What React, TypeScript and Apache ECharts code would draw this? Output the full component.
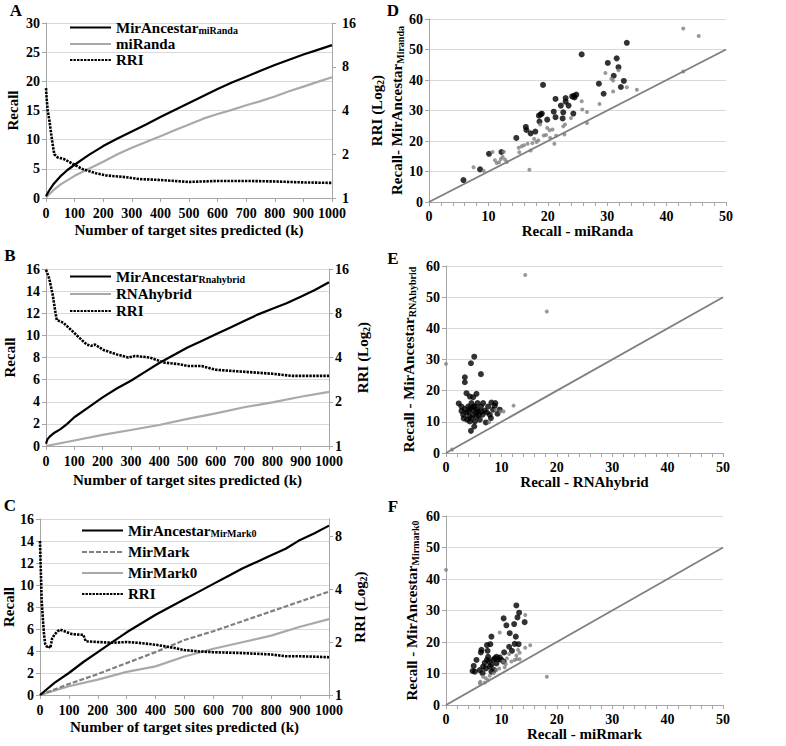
import React, { useEffect, useRef } from "react";
import * as echarts from "echarts";

// ---------- Panel A ----------
const kA_anc = [0, 10, 25, 50, 75, 100, 150, 200, 250, 300, 350, 400, 450, 500, 550, 600, 650, 700, 750, 800, 850, 900, 950, 1000];
const recallA_anc = [0.3, 1.2, 2.3, 3.7, 4.8, 5.7, 7.4, 8.9, 10.2, 11.4, 12.6, 13.9, 15.1, 16.3, 17.5, 18.7, 19.8, 20.8, 21.8, 22.8, 23.7, 24.6, 25.4, 26.2];
const kA_base = [0, 25, 50, 100, 150, 200, 250, 300, 350, 400, 450, 500, 550, 600, 650, 700, 750, 800, 850, 900, 950, 1000];
const recallA_base = [0.1, 1.3, 2.3, 3.8, 5.0, 6.2, 7.5, 8.6, 9.6, 10.6, 11.6, 12.6, 13.6, 14.4, 15.1, 15.9, 16.6, 17.4, 18.3, 19.1, 19.9, 20.7];
const kA_rri = [0, 2, 6, 12, 21, 29, 41, 64, 93, 128, 175, 210, 280, 326, 400, 500, 600, 700, 800, 900, 1000];
const rriA = [5.7, 4.9, 4.0, 3.4, 2.5, 2.0, 1.9, 1.85, 1.72, 1.58, 1.48, 1.43, 1.39, 1.35, 1.33, 1.29, 1.31, 1.31, 1.3, 1.28, 1.27];

// ---------- Panel B ----------
const kB_anc = [0, 5, 15, 30, 50, 75, 100, 150, 200, 250, 300, 350, 400, 450, 500, 550, 600, 650, 700, 750, 800, 850, 900, 950, 1000];
const recallB_anc = [0.2, 0.6, 0.9, 1.2, 1.5, 2.0, 2.6, 3.5, 4.4, 5.2, 5.9, 6.7, 7.5, 8.2, 8.9, 9.5, 10.1, 10.7, 11.3, 11.9, 12.4, 12.9, 13.5, 14.1, 14.8];
const kB_base = [0, 100, 200, 300, 400, 500, 600, 700, 800, 900, 1000];
const recallB_base = [0, 0.5, 1.0, 1.45, 1.9, 2.45, 2.95, 3.5, 3.95, 4.45, 4.9];
const kB_rri = [0, 5, 8, 14, 24, 32, 38, 61, 91, 120, 144, 160, 173, 203, 250, 291, 314, 367, 415, 473, 500, 550, 600, 700, 800, 870, 1000];
const rriB = [15.8, 14.9, 14.5, 13.1, 10.6, 8.4, 7.2, 6.9, 6.1, 5.4, 4.9, 4.8, 4.9, 4.5, 4.2, 4.0, 4.1, 4.0, 3.7, 3.6, 3.5, 3.5, 3.3, 3.2, 3.1, 3.0, 3.0];

// ---------- Panel C ----------
const kC_anc = [0, 50, 100, 150, 200, 250, 300, 350, 400, 450, 500, 550, 600, 650, 700, 750, 800, 850, 900, 950, 1000];
const recallC_anc = [0, 1.1, 2.0, 3.0, 3.9, 4.8, 5.7, 6.5, 7.3, 8.0, 8.7, 9.4, 10.1, 10.8, 11.5, 12.1, 12.7, 13.3, 14.1, 14.7, 15.4];
const kC_base = [0, 100, 200, 300, 400, 500, 600, 700, 800, 900, 1000];
const recallC_mirmark = [0, 1.0, 1.9, 2.9, 3.9, 5.0, 5.8, 6.7, 7.6, 8.5, 9.4];
const recallC_mirmark0 = [0, 0.8, 1.4, 2.1, 2.6, 3.5, 4.2, 4.8, 5.4, 6.2, 6.9];
const kC_rri = [0, 3, 6, 10, 14, 18, 24, 30, 36, 42, 50, 60, 70, 85, 110, 140, 150, 158, 200, 250, 300, 340, 400, 450, 500, 550, 600, 700, 800, 850, 900, 1000];
const rriC = [7.5, 5.0, 3.4, 2.7, 2.2, 1.95, 1.88, 1.9, 1.85, 2.1, 2.2, 2.3, 2.35, 2.3, 2.22, 2.2, 2.2, 2.02, 2.0, 1.98, 2.0, 1.98, 1.93, 1.87, 1.8, 1.77, 1.75, 1.73, 1.7, 1.66, 1.66, 1.64];

// ---------- Scatter D ----------
const dBlack = [[5.8,7.2],[8.6,10.7],[10.1,15.8],[12.2,16.4],[14.7,21.0],[16.3,24.6],[16.4,23.6],[17.1,22.5],[17.9,23.1],[18.5,28.3],[18.8,28.7],[19.0,29.0],[18.6,26.4],[19.2,38.4],[19.9,27.0],[21.0,29.6],[21.3,33.8],[21.3,27.8],[22.2,31.6],[22.5,27.4],[22.6,29.4],[23.0,32.9],[23.0,34.1],[23.5,31.6],[24.1,34.6],[24.4,34.8],[24.5,34.3],[24.8,35.2],[24.3,29.0],[25.7,48.4],[28.6,38.8],[29.4,35.5],[30.1,45.6],[31.1,41.4],[31.6,47.1],[31.9,44.2],[32.3,37.7],[32.8,39.7],[33.3,52.2]];
const dGray = [[7.5,11.4],[9.2,10.2],[10.7,16.4],[11.1,13.7],[11.4,12.8],[11.8,13.0],[12.1,14.1],[12.4,14.8],[12.6,16.5],[12.8,13.9],[13.1,13.1],[15.1,17.8],[15.2,16.3],[15.6,18.3],[16.0,18.6],[16.6,19.1],[16.9,10.6],[17.1,16.9],[17.4,19.3],[17.7,20.7],[18.1,19.7],[18.4,20.2],[18.7,25.4],[19.3,21.8],[19.7,22.0],[19.9,24.3],[20.3,23.5],[20.4,21.0],[20.8,23.8],[21.1,19.1],[21.4,21.7],[22.6,24.8],[22.9,25.4],[22.8,22.1],[23.9,27.5],[25.7,33.0],[25.8,30.3],[26.6,29.5],[26.6,25.9],[28.7,32.1],[29.7,42.3],[30.7,40.4],[31.0,39.8],[31.0,36.2],[31.9,43.2],[33.3,37.6],[35.0,36.8],[42.8,42.8],[42.8,56.9],[45.4,54.4]];

// ---------- Scatter E ----------
const eBlack = [[5.1,30.9],[4.5,28.8],[6.3,25.3],[3.4,24.3],[3.4,22.7],[3.7,19.2],[5.5,19.0],[4.3,18.1],[4.9,17.9],[2.3,15.9],[2.8,13.5],[3.1,12.3],[3.4,14.1],[3.7,13.0],[4.0,14.9],[4.2,11.7],[4.3,10.1],[4.5,7.1],[4.6,16.0],[4.7,13.9],[4.9,12.3],[5.1,8.5],[5.2,14.9],[5.4,13.0],[5.5,11.7],[5.7,16.0],[5.8,13.3],[6.1,10.7],[6.3,14.9],[6.6,12.3],[6.7,16.0],[7.0,13.6],[7.2,9.8],[7.4,13.0],[7.6,14.9],[7.9,12.3],[8.1,11.2],[8.2,16.2],[8.5,13.9],[8.8,15.1],[8.9,16.0],[9.3,12.6],[9.7,13.9],[2.8,14.9],[3.2,11.1],[3.8,10.7],[4.1,13.3],[4.4,14.4],[4.6,11.2],[5.0,14.9],[5.2,10.1],[5.6,13.9],[5.9,12.2],[6.4,13.3]];
const eGray = [[0,28.6],[1.1,1.1],[14.3,57.1],[18.2,45.4],[12.2,15.2],[7.8,9.9],[9.8,13.3],[10.4,13.3],[9.0,13.9]];

// ---------- Scatter F ----------
const fBlack = [[12.7,31.6],[13.2,29.3],[12.9,27.8],[14.2,26.3],[10.4,27.5],[10.9,25.3],[12.3,25.7],[11.5,22.8],[12.6,21.7],[8.2,21.7],[7.4,19.0],[8.0,19.3],[12.4,19.4],[13.1,19.3],[11.4,18.5],[11.9,17.2],[6.4,17.5],[6.3,16.7],[7.5,17.2],[10.5,16.7],[5.5,14.3],[5.0,12.4],[4.8,10.8],[5.2,10.6],[6.1,11.1],[6.7,12.2],[7.0,13.4],[7.4,14.3],[7.8,13.8],[8.2,12.7],[8.5,14.3],[8.8,14.8],[9.1,15.3],[9.4,14.5],[9.7,15.1],[10.0,14.3],[10.4,13.8],[8.2,10.6],[8.7,11.1],[7.2,11.6],[6.6,10.1],[7.6,15.3],[9.1,13.2],[7.9,12.2]];
const fGray = [[0,42.9],[18.2,9.0],[14.3,28.6],[15.2,19.0],[14.3,18.2],[13.3,16.6],[12.7,15.7],[12.8,14.6],[12.4,14.3],[11.4,16.2],[10.8,13.0],[10.6,12.0],[9.7,23.0],[9.6,11.6],[9.1,11.1],[8.6,10.1],[7.9,9.3],[7.2,8.5],[6.7,9.0],[6.2,7.4],[6.1,6.9],[7.0,7.1],[7.6,7.9],[10.3,13.8],[11.0,14.8],[11.8,13.8],[13.3,14.5],[13.0,17.5]];

const diagX = [0, 50];
const diagY = [0, 50];

const FONT = "'Liberation Serif', 'Times New Roman', serif";
const AXIS = "#a6a6a6";
const GRID = "#d9d9d9";
const TITLE = 15;
const txt = { fontFamily: FONT, fontWeight: "bold" as const, color: "#000" };
const RICH = {
  m: { ...txt, fontSize: TITLE, lineHeight: 16 },
  s: { ...txt, fontSize: 10, lineHeight: 8, verticalAlign: "bottom" },
};
const richName = (s: string) => {
  const [a, b] = s.split("_");
  return b ? `{m|${a}}{s|${b}}` : `{m|${a}}`;
};

const pairs = (xs: number[], ys: number[]) => xs.map((x, i) => [x, ys[i]]);
const logPairs = (xs: number[], ys: number[]) => xs.map((x, i) => [x, Math.log2(ys[i])]);
const plain = (v: number) => String(v);

function kAxis(gridIndex: number, gap: number) {
  return {
    type: "value", gridIndex, min: 0, max: 1000, interval: 100,
    name: "Number of target sites predicted (k)", nameLocation: "middle", nameGap: gap,
    nameTextStyle: { ...txt, fontSize: TITLE },
    axisLine: { show: true, lineStyle: { color: AXIS } },
    axisTick: { show: true, length: 4, lineStyle: { color: AXIS } },
    axisLabel: { ...txt, fontSize: 14, margin: 8, formatter: plain },
    splitLine: { show: false },
  };
}
function recallAxis(gridIndex: number, max: number, interval: number, gap: number) {
  return {
    type: "value", gridIndex, min: 0, max, interval, position: "left",
    name: "Recall", nameLocation: "middle", nameGap: gap,
    nameTextStyle: { ...txt, fontSize: TITLE },
    axisLine: { show: true, lineStyle: { color: AXIS } },
    axisTick: { show: true, length: 4, lineStyle: { color: AXIS } },
    axisLabel: { ...txt, fontSize: 14, margin: 6, formatter: plain },
    splitLine: { show: true, lineStyle: { color: GRID } },
  };
}
function rriAxis(gridIndex: number, maxRRI: number, ticks: number[], gap: number, margin: number) {
  const vals = ticks.map((t) => Math.log2(t));
  return {
    type: "value", gridIndex, min: 0, max: Math.log2(maxRRI), interval: 1, position: "right",
    name: "{m|RRI (Log}{s|2}{m|)}", nameLocation: "middle", nameGap: gap,
    nameTextStyle: { ...txt, fontSize: TITLE, rich: RICH },
    axisLine: { show: true, lineStyle: { color: AXIS } },
    axisTick: { show: true, length: 4, lineStyle: { color: AXIS }, customValues: vals },
    axisLabel: {
      ...txt, fontSize: 14, margin, customValues: vals,
      formatter: (v: number) => (Math.abs(v - Math.round(v)) < 1e-6 ? String(Math.round(Math.pow(2, v))) : ""),
    },
    splitLine: { show: false },
  };
}
function scX(gridIndex: number, name: string, gap: number) {
  return {
    type: "value", gridIndex, min: 0, max: 50, interval: 10,
    name, nameLocation: "middle", nameGap: gap,
    nameTextStyle: { ...txt, fontSize: TITLE },
    axisLine: { show: true, lineStyle: { color: AXIS } },
    axisTick: { show: true, length: 4, lineStyle: { color: AXIS } },
    minorTick: { show: true, splitNumber: 5, length: 4, lineStyle: { color: AXIS } },
    axisLabel: { ...txt, fontSize: 14, margin: 7, formatter: plain },
    splitLine: { show: false },
  };
}
function scY(gridIndex: number, name: string, gap: number) {
  return {
    type: "value", gridIndex, min: 0, max: 60, interval: 10,
    name, nameLocation: "middle", nameGap: gap,
    nameTextStyle: { ...txt, fontSize: TITLE, rich: RICH },
    axisLine: { show: true, lineStyle: { color: AXIS } },
    axisTick: { show: true, length: 4, lineStyle: { color: AXIS } },
    axisLabel: { ...txt, fontSize: 14, margin: 6, formatter: plain },
    splitLine: { show: true, lineStyle: { color: GRID } },
  };
}

const BLACK_LINE = { color: "#000", width: 2.2 };
const GRAY_LINE = { color: "#a9a9a9", width: 2.2 };
const DASH_LINE = { color: "#808080", width: 2.2, type: [5, 2] };
const RRI_LINE = { color: "#000", width: 2.6, type: [2.4, 1.1] };

function lineSeries(name: string, xi: number, yi: number, data: number[][], ls: any) {
  return {
    type: "line", name, xAxisIndex: xi, yAxisIndex: yi, data,
    symbol: "none", showSymbol: false, lineStyle: ls, itemStyle: { color: ls.color },
    silent: true, z: 3,
  };
}
function scatter(name: string, xi: number, data: number[][], color: string, size: number) {
  return {
    type: "scatter", name, xAxisIndex: xi, yAxisIndex: xi, data,
    symbol: "circle", symbolSize: size, itemStyle: { color }, silent: true, z: 4,
  };
}
function diag(xi: number) {
  return {
    type: "line", name: "diag", xAxisIndex: xi, yAxisIndex: xi, data: pairs(diagX, diagY),
    symbol: "none", lineStyle: { color: "#7f7f7f", width: 1.8 }, silent: true, z: 2,
  };
}
function legend(left: number, top: number, gap: number, data: string[]) {
  return {
    left, top, orient: "vertical", itemWidth: 41, itemHeight: 10, itemGap: gap, padding: 0,
    data, selectedMode: false,
    itemStyle: { opacity: 0 },
    textStyle: { ...txt, fontSize: 15, rich: RICH },
    formatter: (n: string) => richName(n),
  };
}
function letter(t: string, x: number, y: number) {
  return {
    type: "text", x, y,
    style: { text: t, font: `bold 17px ${FONT}`, fill: "#000", textAlign: "center", textVerticalAlign: "middle" },
  };
}

export default function App() {
  const ref = useRef<HTMLDivElement>(null);
  useEffect(() => {
    if (!ref.current) return;
    const chart = echarts.init(ref.current, undefined, { renderer: "svg" });
    const option: any = {
      animation: false,
      backgroundColor: "#fff",
      grid: [
        { left: 46, top: 23, width: 286, height: 175 },
        { left: 46, top: 269, width: 283, height: 177 },
        { left: 39, top: 519, width: 290, height: 176 },
        { left: 429, top: 19, width: 297, height: 183 },
        { left: 446, top: 266, width: 277, height: 187 },
        { left: 446, top: 516, width: 277, height: 189 },
      ],
      xAxis: [
        kAxis(0, 24), kAxis(1, 26), kAxis(2, 24),
        scX(3, "Recall - miRanda", 20), scX(4, "Recall - RNAhybrid", 21), scX(5, "Recall - miRmark", 21),
      ],
      yAxis: [
        recallAxis(0, 30, 5, 26), recallAxis(1, 16, 2, 29), recallAxis(2, 16, 2, 24),
        scY(3, "{m|Recall- MirAncestar}{s|Miranda}", 24),
        scY(4, "{m|Recall - MirAncestar}{s|RNAhybrid}", 29),
        scY(5, "{m|Recall - MirAncestar}{s|Mirmark0}", 26),
        rriAxis(0, 16, [1, 2, 4, 8, 16], 37, 10), rriAxis(1, 16, [1, 2, 4, 8, 16], 26, 6), rriAxis(2, 10, [1, 2, 4, 8], 23, 6),
      ],
      legend: [
        legend(69, 20, 1, ["MirAncestar_miRanda", "miRanda", "RRI"]),
        legend(69, 269, 2, ["MirAncestar_Rnahybrid", "RNAhybrid", "RRI"]),
        legend(81, 523, 6, ["MirAncestar_MirMark0", "MirMark", "MirMark0", "RRI"]),
      ],
      series: [
        lineSeries("miRanda", 0, 0, pairs(kA_base, recallA_base), GRAY_LINE),
        lineSeries("MirAncestar_miRanda", 0, 0, pairs(kA_anc, recallA_anc), BLACK_LINE),
        lineSeries("RRI", 0, 6, logPairs(kA_rri, rriA), RRI_LINE),
        lineSeries("RNAhybrid", 1, 1, pairs(kB_base, recallB_base), GRAY_LINE),
        lineSeries("MirAncestar_Rnahybrid", 1, 1, pairs(kB_anc, recallB_anc), BLACK_LINE),
        lineSeries("RRI", 1, 7, logPairs(kB_rri, rriB), RRI_LINE),
        lineSeries("MirMark0", 2, 2, pairs(kC_base, recallC_mirmark0), GRAY_LINE),
        lineSeries("MirMark", 2, 2, pairs(kC_base, recallC_mirmark), DASH_LINE),
        lineSeries("MirAncestar_MirMark0", 2, 2, pairs(kC_anc, recallC_anc), BLACK_LINE),
        lineSeries("RRI", 2, 8, logPairs(kC_rri, rriC), RRI_LINE),
        diag(3), diag(4), diag(5),
        scatter("dBlack", 3, dBlack, "#000", 6),
        scatter("dGray", 3, dGray, "#7f7f7f", 4),
        scatter("eBlack", 4, eBlack, "#000", 6),
        scatter("eGray", 4, eGray, "#7f7f7f", 4),
        scatter("fBlack", 5, fBlack, "#000", 6),
        scatter("fGray", 5, fGray, "#7f7f7f", 4),
      ],
      graphic: [
        letter("A", 16, 10), letter("B", 10, 255), letter("C", 10, 505),
        letter("D", 393, 10), letter("E", 393, 258), letter("F", 393, 506),
      ],
    };
    chart.setOption(option);
    return () => chart.dispose();
  }, []);
  return <div ref={ref} style={{ position: "absolute", left: 0, top: 0, width: 786, height: 746 }} />;
}
